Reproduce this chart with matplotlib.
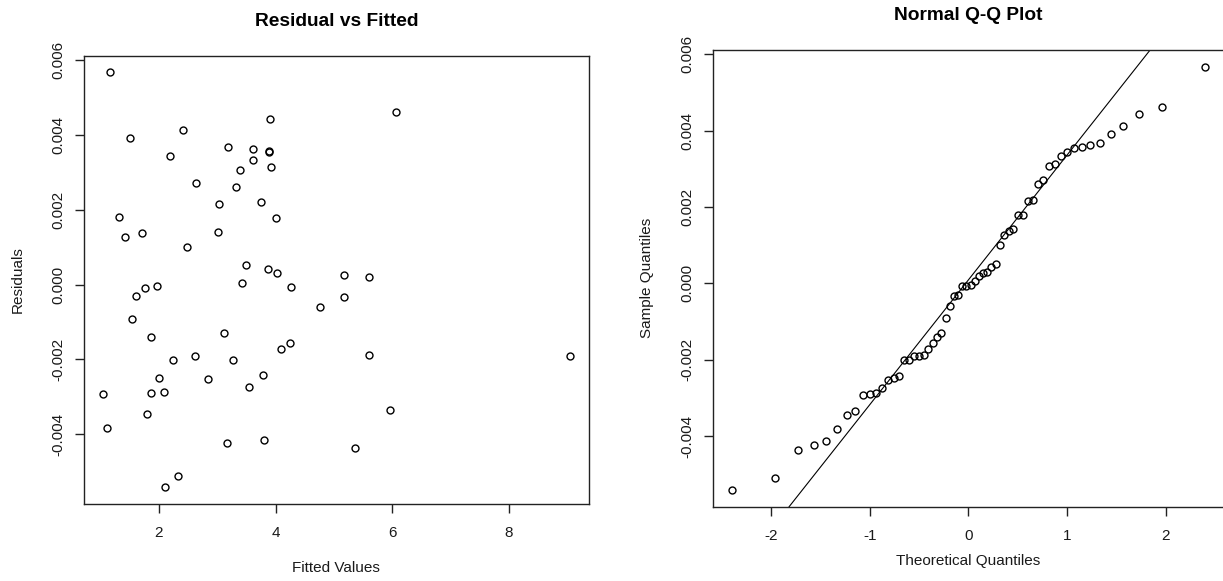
import matplotlib
matplotlib.use("Agg")
import matplotlib.pyplot as plt
import numpy as np
from statistics import NormalDist

plt.rcParams['font.family'] = ['Liberation Sans', 'DejaVu Sans']
plt.rcParams['axes.unicode_minus'] = False

# fitted values and residuals
fitted = [1.155, 3.897, 1.508, 2.416, 3.188, 3.606, 3.880, 3.890, 2.188, 3.606,
          3.914, 3.388, 2.629, 3.320, 3.033, 3.743, 1.314, 4.005, 1.417, 1.703,
          3.011, 2.480, 3.496, 3.873, 4.027, 3.428, 1.760, 1.971, 4.267, 1.601,
          4.754, 1.532, 1.858, 3.114, 4.250, 4.091, 2.235, 2.612, 3.273, 3.782,
          1.995, 2.835, 1.040, 1.858, 2.086, 3.542, 1.794, 1.114, 3.160, 3.805,
          2.320, 2.108, 6.062, 5.176, 5.594, 5.176, 5.594, 9.044, 5.954, 5.359]
residuals = [0.00567, 0.004435, 0.00391, 0.004123, 0.00368, 0.003612, 0.003552, 0.003558, 0.00343, 0.00334,
             0.003132, 0.003062, 0.002705, 0.002612, 0.00216, 0.002195, 0.001795, 0.001785, 0.001265, 0.001372,
             0.00141, 0.001, 0.000515, 0.00042, 0.000301, 0.000055, -0.00008, -0.000045, -0.000072, -0.00031,
             -0.000597, -0.000907, -0.001397, -0.001291, -0.001557, -0.001725, -0.002011, -0.001912, -0.002011, -0.002427,
             -0.002491, -0.002533, -0.002933, -0.002907, -0.002872, -0.002731, -0.003455, -0.00383, -0.00424, -0.00414,
             -0.005105, -0.00541, 0.004615, 0.000267, 0.000195, -0.00032, -0.001877, -0.001904, -0.003345, -0.004378]

x_ticks_left = [2, 4, 6, 8]
x_ticks_right = [-2, -1, 0, 1, 2]
y_ticks = [-0.004, -0.002, 0.0, 0.002, 0.004, 0.006]
y_tick_labels = ["-0.004", "-0.002", "0.000", "0.002", "0.004", "0.006"]

txt = '#1a1a1a'

fig = plt.figure(figsize=(12.23, 5.81), dpi=100)
ax1 = fig.add_axes([0.0689, 0.1330, 0.4123, 0.7711])
ax2 = fig.add_axes([0.5832, 0.1279, 0.4174, 0.7861])


def r_style(ax):
    for s in ax.spines.values():
        s.set_linewidth(1.0)
        s.set_color('#222222')
    ax.tick_params(direction='out', length=6.5, width=1.0, colors='#222222',
                   labelcolor=txt, labelsize=11)
    ax.tick_params(axis='x', pad=9.5)
    ax.tick_params(axis='y', pad=7, labelrotation=90)
    ax.set_yticks(y_ticks)
    ax.set_yticklabels(y_tick_labels, va='center')
    ax.margins(0.04)


# Residual vs Fitted
ax1.plot(fitted, residuals, 'o', mfc='none', mec='black', ms=5, mew=1.0)
r_style(ax1)
ax1.set_xticks(x_ticks_left)
ax1.set_title("Residual vs Fitted", fontsize=13.8, fontweight='bold', pad=21.5, color='black')
ax1.set_xlabel("Fitted Values", fontsize=11, color=txt)
ax1.set_ylabel("Residuals", fontsize=11, color=txt, va='center')
ax1.xaxis.set_label_coords(0.5, -0.127)
ax1.yaxis.set_label_coords(-0.131, 0.5)

# Normal Q-Q
sample = np.sort(residuals)
n = len(sample)
theo = [NormalDist().inv_cdf((i + 0.5) / n) for i in range(n)]
ax2.plot(theo, sample, 'o', mfc='none', mec='black', ms=5, mew=1.0)
r_style(ax2)
ax2.set_xticks(x_ticks_right)
q1, q3 = np.quantile(sample, [0.25, 0.75])
z1, z3 = NormalDist().inv_cdf(0.25), NormalDist().inv_cdf(0.75)
slope = (q3 - q1) / (z3 - z1)
ax2.axline((z1, q1), slope=slope, color='black', lw=0.8)
ax2.set_title("Normal Q-Q Plot", fontsize=13.8, fontweight='bold', pad=21.5, color='black')
ax2.set_xlabel("Theoretical Quantiles", fontsize=11, color=txt)
ax2.set_ylabel("Sample Quantiles", fontsize=11, color=txt, va='center')
ax2.xaxis.set_label_coords(0.5, -0.104)
ax2.yaxis.set_label_coords(-0.13, 0.5)

fig.savefig("out.png", dpi=100)
